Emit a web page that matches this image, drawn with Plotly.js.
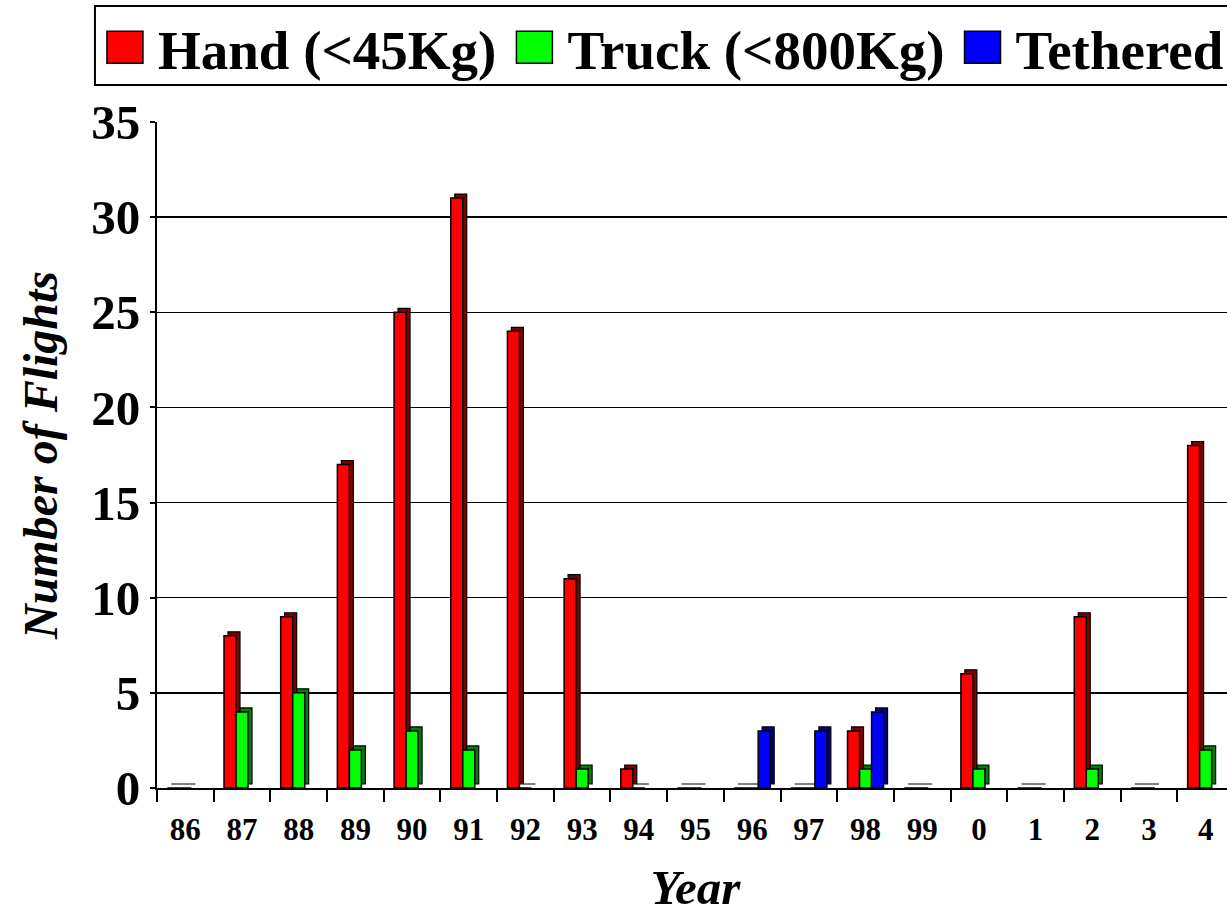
<!DOCTYPE html>
<html>
<head>
<meta charset="utf-8">
<script src="https://cdn.plot.ly/plotly-3.0.1.min.js"></script>
<style>
html,body{margin:0;padding:0;background:#fff;overflow:hidden;}
#chart{width:1300px;height:915px;}
</style>
</head>
<body>
<div id="chart"></div>
<script>
const years = ['86','87','88','89','90','91','92','93','94','95','96','97','98','99','0','1','2','3','4'];
const hand = [0,8,9,17,25,31,24,11,1,0,0,0,3,0,6,0,9,0,18];
const truck = [0,4,5,2,3,2,0,1,0,0,0,0,1,0,1,0,1,0,2];
const tethered = [null,null,null,null,null,null,null,null,null,null,3,3,4,null,null,null,null,null,null];
const seriesNames = ['Hand (<45Kg)','Truck (<800Kg)','Tethered'];

const W = 0.212, DX = 0.07, DY = 0.21;
const specs = [
  {y: hand, name: seriesNames[0], color: '#ff0000', dark: '#800000', off: -0.318},
  {y: truck, name: seriesNames[1], color: '#00ff00', dark: '#008000', off: -0.106},
  {y: tethered, name: seriesNames[2], color: '#0000ff', dark: '#000080', off: 0.106}
];
const traces = [];
specs.forEach(s => {
  // depth (3D side/top face)
  traces.push({
    type: 'bar', x: years, y: s.y, base: DY, width: W, offset: s.off + DX,
    marker: {color: s.dark, line: {color: '#000', width: 1.2}},
    showlegend: false, hoverinfo: 'skip'
  });
  traces.push({
    type: 'bar', x: years, y: s.y, name: s.name, width: W, offset: s.off,
    marker: {color: s.color, line: {color: '#000', width: 1.5}}
  });
});

const layout = {
  width: 1300, height: 915,
  margin: {l: 157, r: 66, t: 122, b: 127, autoexpand: false},
  paper_bgcolor: '#fff', plot_bgcolor: '#fff',
  barmode: 'overlay',
  font: {family: 'Liberation Serif, Times New Roman, serif', color: '#000'},
  showlegend: true,
  legend: {
    orientation: 'h', x: -0.0604, xanchor: 'left', y: 1.1757, yanchor: 'top',
    borderwidth: 0, bgcolor: 'rgba(0,0,0,0)',
    font: {size: 55, family: 'Liberation Serif, serif', weight: 'bold', color: '#000'},
    itemwidth: 56, traceorder: 'normal'
  },
  shapes: [{
    type: 'rect', xref: 'paper', yref: 'paper',
    x0: -0.0576, x1: 1.3, y0: 1.0556, y1: 1.1742,
    line: {color: '#000', width: 2}, fillcolor: 'rgba(0,0,0,0)', layer: 'above'
  }],
  xaxis: {
    type: 'category', categoryorder: 'array', categoryarray: years,
    range: [-0.5, 18.5],
    showline: true, linecolor: '#000', linewidth: 2,
    ticks: 'outside', tickson: 'boundaries', ticklen: 12, tickwidth: 2, tickcolor: '#000',
    ticklabelstandoff: 13,
    tickfont: {size: 31, family: 'Liberation Serif, serif', weight: 'bold'},
    showgrid: false, zeroline: false,
    title: {text: 'Year', standoff: 40,
      font: {size: 49, family: 'Liberation Serif, serif', weight: 'bold', style: 'italic'}}
  },
  yaxis: {
    range: [0, 35], dtick: 5, tick0: 0,
    showline: true, linecolor: '#000', linewidth: 2,
    ticks: 'outside', ticklen: 5, tickwidth: 2, tickcolor: '#000',
    tickfont: {size: 49, family: 'Liberation Serif, serif', weight: 'bold'},
    showgrid: true, gridcolor: '#000', gridwidth: 1.5, zeroline: false,
    title: {text: 'Number of Flights', standoff: 18,
      font: {size: 48, family: 'Liberation Serif, serif', weight: 'bold', style: 'italic'}}
  }
};

Plotly.newPlot('chart', traces, layout, {staticPlot: true, displayModeBar: false}).then(() => {
  document.querySelectorAll('.legend .legendpoints path').forEach(p => {
    p.setAttribute('d', 'M18,16H-18V-16H18Z');
  });
});
</script>
</body>
</html>
